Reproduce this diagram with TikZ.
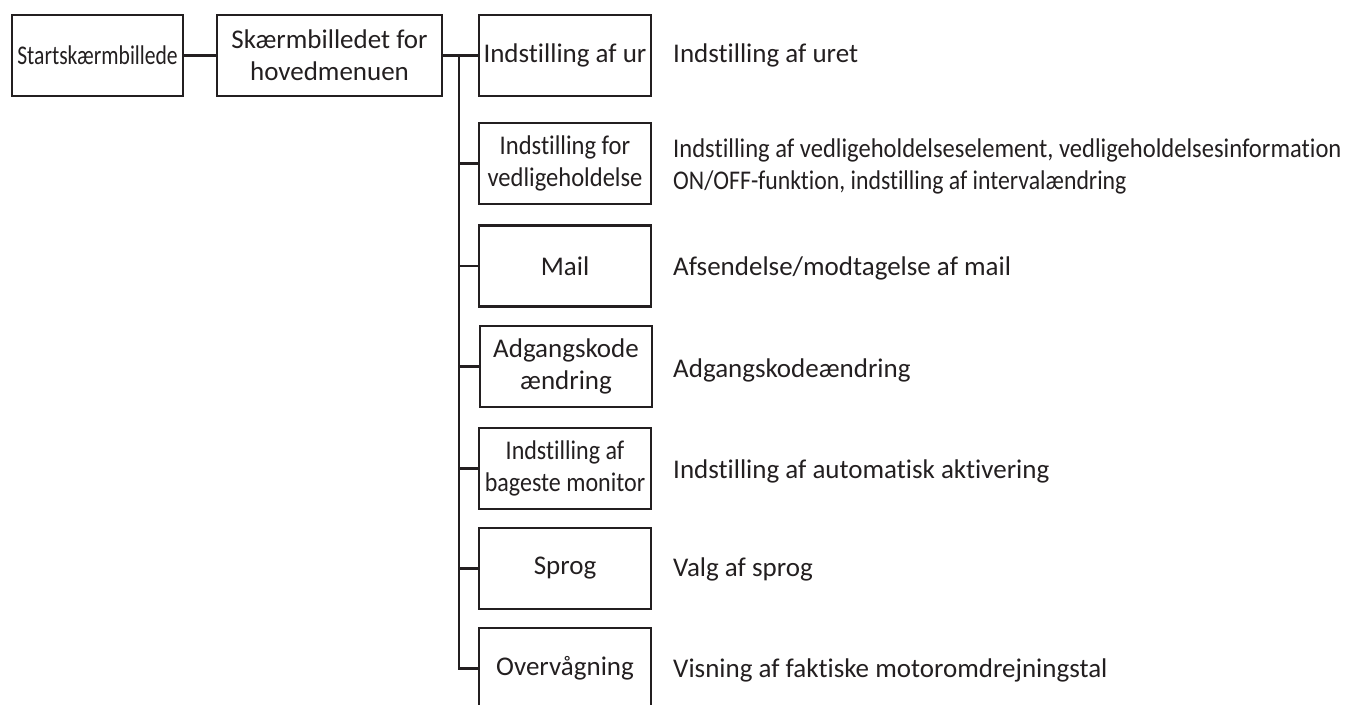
\documentclass[tikz,border=0pt]{standalone}
\usepackage{fontspec}
\setmainfont{Carlito}[Ligatures=NoCommon]
\newcommand{\cnd}[2]{\scalebox{#1}[1]{#2}}
\begin{document}
\begin{tikzpicture}[x=1pt,y=-1pt,
  every node/.style={text=ink,font=\fontsize{27}{32}\selectfont},
  box/.style={draw=ink,line width=2.6pt,minimum height=81pt,inner sep=0pt,align=center},
  link/.style={draw=ink,line width=2.6pt},
  desc/.style={anchor=west,align=left,inner sep=0pt}]
\definecolor{ink}{HTML}{231F20}
\useasboundingbox (0,0) rectangle (1356,704);
\node[box,minimum width=171pt] (start) at (97.5,55.5) {\cnd{0.8}{Startskærmbillede}};
\node[box,minimum width=225pt] (main) at (329.5,55.5) {Skærmbilledet for\\hovedmenuen};
\node[box,minimum width=172pt] (ur) at (565,55.5) {Indstilling af ur};
\node[box,minimum width=172pt] (ved) at (565,163.5) {\cnd{0.91}{Indstilling for}\\\cnd{0.91}{vedligeholdelse}};
\node[box,minimum width=172pt] (mail) at (565,266) {Mail};
\node[box,minimum width=172pt] (adg) at (566,366.5) {Adgangskode\\ændring};
\node[box,minimum width=172pt] (bag) at (565,468.5) {\cnd{0.89}{Indstilling af}\\\cnd{0.89}{bageste monitor}};
\node[box,minimum width=172pt] (sprog) at (565,568.5) {Sprog};
\node[box,minimum width=172pt] (overv) at (565,668.5) {Overvågning};
\coordinate (trunk) at (459,55.5);
\draw[link] (start.east) -- (main.west);
\draw[link] (main.east) -- (ur.west);
\draw[link,line join=miter] (trunk) |- (overv.west);
\foreach \n in {ved,mail,adg,bag,sprog}{\draw[link] (trunk |- \n.west) -- (\n.west);}
\node[desc] (dur) at (673,55.5) {Indstilling af uret};
\node[desc] (dved) at (673,166) {\cnd{0.91}{Indstilling af vedligeholdelseselement, vedligeholdelsesinformation}\\\cnd{0.88}{ON/OFF-funktion, indstilling af intervalændring}};
\node[desc] (dmail) at (673,268) {Afsendelse/modtagelse af mail};
\node[desc] (dadg) at (673,370) {Adgangskodeændring};
\node[desc] (dbag) at (673,471) {Indstilling af automatisk aktivering};
\node[desc] (dsprog) at (673,569) {Valg af sprog};
\node[desc] (doverv) at (673,670) {Visning af faktiske motoromdrejningstal};
\end{tikzpicture}
\end{document}
